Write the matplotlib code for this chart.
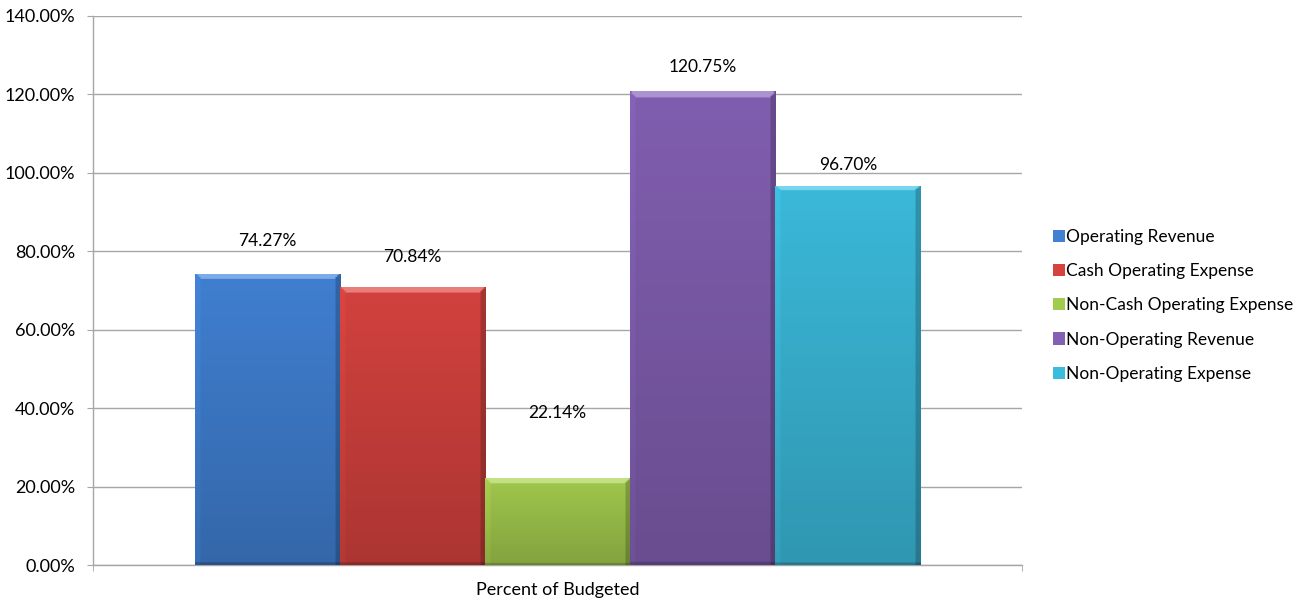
import matplotlib
matplotlib.use("Agg")
import matplotlib.pyplot as plt
import numpy as np
from matplotlib.patches import Patch
import matplotlib.colors as mcolors

plt.rcParams['font.family'] = ['Lato', 'DejaVu Sans']

category = "Percent of Budgeted"
series = ["Operating Revenue", "Cash Operating Expense", "Non-Cash Operating Expense",
          "Non-Operating Revenue", "Non-Operating Expense"]
values = [74.27, 70.84, 22.14, 120.75, 96.70]
labels = ["74.27%", "70.84%", "22.14%", "120.75%", "96.70%"]
yticks = [0, 20, 40, 60, 80, 100, 120, 140]

colors = ["#4181D4", "#D6433F", "#A3CB4E", "#8360B3", "#3CBCDD"]
label_offsets_px = [33, 30, 65, 24, 21]

fig = plt.figure(figsize=(13.07, 6.02), dpi=100)
ax = fig.add_axes([93/1307, 1-565/602, (1022-93)/1307, (565-16)/602])

n = len(values)
bw = 145.2 / 929
start = -n * bw / 2

for i, (v, c) in enumerate(zip(values, colors)):
    x0 = start + i * bw
    rect = ax.bar(x0, v, width=bw, align='edge', color=c, edgecolor='none', zorder=3)[0]
    H, W = 300, 80
    yy = np.broadcast_to(np.linspace(0, 1, H)[:, None], (H, W))
    xx = np.broadcast_to(np.linspace(0, 1, W)[None, :], (H, W))
    base = np.array(mcolors.to_rgb(c))
    fac = 0.80 + 0.18 * yy
    img = base[None, None, :] * fac[..., None]
    img = np.clip(img, 0, 1).copy()
    px_w = bw * 929
    px_h = v / 140 * 549
    edge = 5.0
    dx = xx * px_w
    dy = (1 - yy) * px_h
    top_mask = (dy < edge) & (dx > dy) & (px_w - dx > dy)
    right_mask = ((px_w - dx) < edge) & ~top_mask
    left_mask = (dx < edge) & ~top_mask
    bot_mask = (yy * px_h < 2)
    img[top_mask] = np.clip(img[top_mask] * 0.75 + 0.30, 0, 1)
    img[left_mask] = np.clip(img[left_mask] * 1.05, 0, 1)
    img[right_mask] = np.clip(img[right_mask] * 0.80, 0, 1)
    img[bot_mask] = np.clip(img[bot_mask] * 0.8, 0, 1)
    im = ax.imshow(img, extent=[x0, x0 + bw, 0, v], origin='lower', aspect='auto',
                   zorder=3, interpolation='bilinear')
    im.set_clip_path(rect)
    ax.annotate(labels[i], (x0 + bw / 2, v), xytext=(0, label_offsets_px[i] * 0.72),
                textcoords='offset points', ha='center', va='center', fontsize=12.5,
                color='#000000', zorder=5)

ax.set_xlim(-0.5, 0.5)
ax.set_ylim(0, 140)
ax.set_yticks(yticks)
ax.set_yticklabels([f"{t:.2f}%" for t in yticks], fontsize=13)
ax.yaxis.grid(True, color='#A6A6A6', linewidth=1, zorder=0)
ax.set_axisbelow(True)
ax.set_xticks([0])
ax.set_xticklabels([category], fontsize=13)
ax.tick_params(axis='x', which='major', length=0, pad=12)
ax.set_xticks([-0.5, 0.5], minor=True)
ax.tick_params(axis='x', which='minor', length=4.3, color='#A6A6A6', direction='out')
ax.tick_params(axis='y', length=4.3, color='#A6A6A6', direction='out', pad=8.5)
for s in ['top', 'right']:
    ax.spines[s].set_visible(False)
for s in ['left', 'bottom']:
    ax.spines[s].set_color('#A6A6A6')
    ax.spines[s].set_linewidth(1)

handles = [Patch(facecolor=c, edgecolor='none') for c in colors]
leg = fig.legend(handles, series, loc='upper left', bbox_to_anchor=(1046/1307, 1-222/602),
                 frameon=False, fontsize=12.5, handlelength=0.7, handleheight=0.7,
                 handletextpad=0.08, labelspacing=1.05, borderaxespad=0)

fig.savefig("out.png", dpi=100)
